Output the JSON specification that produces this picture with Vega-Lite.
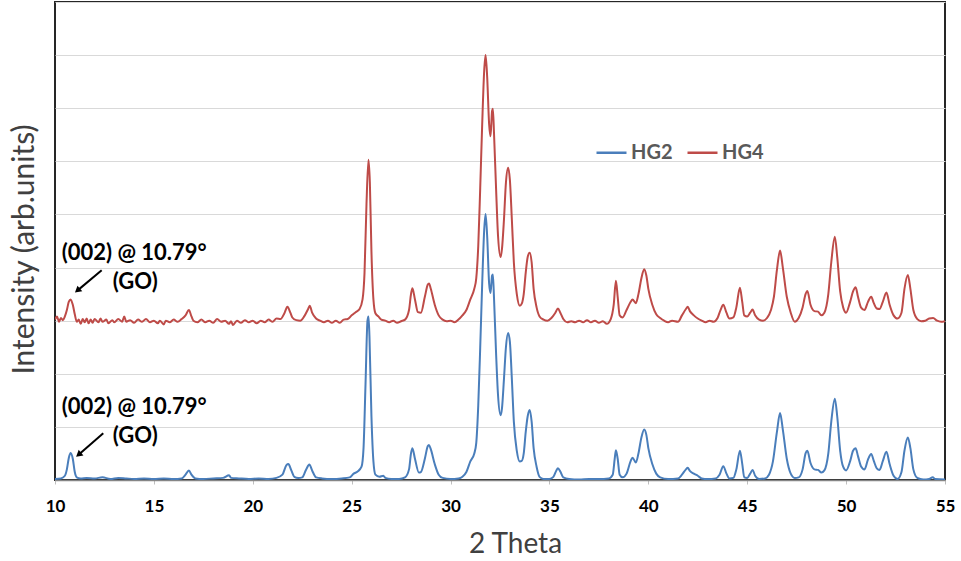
{
  "$schema": "https://vega.github.io/schema/vega-lite/v6.json",
  "width": 890,
  "height": 478,
  "autosize": "none",
  "padding": {"left": 55, "top": 2, "right": 16, "bottom": 81},
  "background": "white",
  "config": {
    "font": "Lato",
    "view": {"stroke": "#262626", "strokeWidth": 2}
  },
  "layer": [
    {
      "data": {"values": [
        {"s":"HG2","t":10.0,"i":0.02},{"s":"HG2","t":10.3,"i":0.03},{"s":"HG2","t":10.5,"i":0.08},{"s":"HG2","t":10.6,"i":0.2},{"s":"HG2","t":10.7,"i":0.42},{"s":"HG2","t":10.79,"i":0.51},{"s":"HG2","t":10.9,"i":0.4},{"s":"HG2","t":11.0,"i":0.15},{"s":"HG2","t":11.1,"i":0.05},{"s":"HG2","t":11.3,"i":0.03},{"s":"HG2","t":11.6,"i":0.04},{"s":"HG2","t":12.0,"i":0.03},{"s":"HG2","t":12.4,"i":0.05},{"s":"HG2","t":12.8,"i":0.02},{"s":"HG2","t":13.2,"i":0.04},{"s":"HG2","t":13.6,"i":0.03},{"s":"HG2","t":14.0,"i":0.02},{"s":"HG2","t":14.5,"i":0.03},{"s":"HG2","t":15.0,"i":0.02},{"s":"HG2","t":15.5,"i":0.03},{"s":"HG2","t":16.0,"i":0.02},{"s":"HG2","t":16.4,"i":0.03},{"s":"HG2","t":16.6,"i":0.1},{"s":"HG2","t":16.77,"i":0.18},{"s":"HG2","t":16.9,"i":0.1},{"s":"HG2","t":17.1,"i":0.03},{"s":"HG2","t":17.5,"i":0.02},{"s":"HG2","t":18.0,"i":0.03},{"s":"HG2","t":18.5,"i":0.04},{"s":"HG2","t":18.8,"i":0.09},{"s":"HG2","t":18.9,"i":0.04},{"s":"HG2","t":19.3,"i":0.03},{"s":"HG2","t":19.8,"i":0.02},{"s":"HG2","t":20.3,"i":0.03},{"s":"HG2","t":20.8,"i":0.02},{"s":"HG2","t":21.2,"i":0.04},{"s":"HG2","t":21.5,"i":0.1},{"s":"HG2","t":21.7,"i":0.28},{"s":"HG2","t":21.8,"i":0.3},{"s":"HG2","t":21.95,"i":0.18},{"s":"HG2","t":22.1,"i":0.06},{"s":"HG2","t":22.3,"i":0.04},{"s":"HG2","t":22.5,"i":0.05},{"s":"HG2","t":22.7,"i":0.2},{"s":"HG2","t":22.86,"i":0.29},{"s":"HG2","t":23.0,"i":0.18},{"s":"HG2","t":23.2,"i":0.05},{"s":"HG2","t":23.5,"i":0.03},{"s":"HG2","t":24.0,"i":0.02},{"s":"HG2","t":24.5,"i":0.03},{"s":"HG2","t":24.9,"i":0.05},{"s":"HG2","t":25.1,"i":0.12},{"s":"HG2","t":25.3,"i":0.16},{"s":"HG2","t":25.5,"i":0.25},{"s":"HG2","t":25.6,"i":0.6},{"s":"HG2","t":25.7,"i":1.8},{"s":"HG2","t":25.8,"i":3.0},{"s":"HG2","t":25.85,"i":3.08},{"s":"HG2","t":25.9,"i":2.7},{"s":"HG2","t":26.0,"i":1.2},{"s":"HG2","t":26.1,"i":0.35},{"s":"HG2","t":26.2,"i":0.1},{"s":"HG2","t":26.4,"i":0.06},{"s":"HG2","t":26.6,"i":0.08},{"s":"HG2","t":26.7,"i":0.04},{"s":"HG2","t":27.0,"i":0.02},{"s":"HG2","t":27.4,"i":0.02},{"s":"HG2","t":27.7,"i":0.05},{"s":"HG2","t":27.9,"i":0.2},{"s":"HG2","t":28.0,"i":0.5},{"s":"HG2","t":28.07,"i":0.6},{"s":"HG2","t":28.2,"i":0.4},{"s":"HG2","t":28.4,"i":0.14},{"s":"HG2","t":28.5,"i":0.15},{"s":"HG2","t":28.7,"i":0.4},{"s":"HG2","t":28.85,"i":0.64},{"s":"HG2","t":28.91,"i":0.66},{"s":"HG2","t":29.0,"i":0.58},{"s":"HG2","t":29.2,"i":0.3},{"s":"HG2","t":29.4,"i":0.1},{"s":"HG2","t":29.6,"i":0.04},{"s":"HG2","t":30.0,"i":0.02},{"s":"HG2","t":30.4,"i":0.03},{"s":"HG2","t":30.6,"i":0.06},{"s":"HG2","t":30.8,"i":0.15},{"s":"HG2","t":31.0,"i":0.35},{"s":"HG2","t":31.2,"i":0.5},{"s":"HG2","t":31.3,"i":0.7},{"s":"HG2","t":31.4,"i":1.4},{"s":"HG2","t":31.5,"i":2.5},{"s":"HG2","t":31.6,"i":3.7},{"s":"HG2","t":31.7,"i":4.7},{"s":"HG2","t":31.77,"i":5.01},{"s":"HG2","t":31.85,"i":4.6},{"s":"HG2","t":31.95,"i":3.7},{"s":"HG2","t":32.02,"i":3.52},{"s":"HG2","t":32.1,"i":3.85},{"s":"HG2","t":32.14,"i":3.87},{"s":"HG2","t":32.2,"i":3.4},{"s":"HG2","t":32.3,"i":2.4},{"s":"HG2","t":32.4,"i":1.6},{"s":"HG2","t":32.53,"i":1.22},{"s":"HG2","t":32.6,"i":1.35},{"s":"HG2","t":32.7,"i":1.9},{"s":"HG2","t":32.8,"i":2.5},{"s":"HG2","t":32.91,"i":2.77},{"s":"HG2","t":33.0,"i":2.6},{"s":"HG2","t":33.1,"i":1.9},{"s":"HG2","t":33.2,"i":1.1},{"s":"HG2","t":33.35,"i":0.55},{"s":"HG2","t":33.5,"i":0.35},{"s":"HG2","t":33.6,"i":0.36},{"s":"HG2","t":33.7,"i":0.5},{"s":"HG2","t":33.8,"i":0.9},{"s":"HG2","t":33.9,"i":1.2},{"s":"HG2","t":34.0,"i":1.32},{"s":"HG2","t":34.1,"i":1.1},{"s":"HG2","t":34.2,"i":0.6},{"s":"HG2","t":34.35,"i":0.25},{"s":"HG2","t":34.5,"i":0.06},{"s":"HG2","t":34.7,"i":0.02},{"s":"HG2","t":35.0,"i":0.02},{"s":"HG2","t":35.2,"i":0.06},{"s":"HG2","t":35.35,"i":0.18},{"s":"HG2","t":35.43,"i":0.22},{"s":"HG2","t":35.55,"i":0.16},{"s":"HG2","t":35.7,"i":0.05},{"s":"HG2","t":36.0,"i":0.02},{"s":"HG2","t":36.5,"i":0.01},{"s":"HG2","t":37.0,"i":0.02},{"s":"HG2","t":37.5,"i":0.02},{"s":"HG2","t":38.0,"i":0.03},{"s":"HG2","t":38.2,"i":0.1},{"s":"HG2","t":38.3,"i":0.4},{"s":"HG2","t":38.36,"i":0.56},{"s":"HG2","t":38.45,"i":0.4},{"s":"HG2","t":38.55,"i":0.1},{"s":"HG2","t":38.7,"i":0.05},{"s":"HG2","t":38.9,"i":0.12},{"s":"HG2","t":39.1,"i":0.35},{"s":"HG2","t":39.2,"i":0.42},{"s":"HG2","t":39.37,"i":0.33},{"s":"HG2","t":39.5,"i":0.5},{"s":"HG2","t":39.65,"i":0.8},{"s":"HG2","t":39.79,"i":0.95},{"s":"HG2","t":39.9,"i":0.85},{"s":"HG2","t":40.0,"i":0.6},{"s":"HG2","t":40.2,"i":0.3},{"s":"HG2","t":40.4,"i":0.12},{"s":"HG2","t":40.6,"i":0.05},{"s":"HG2","t":41.0,"i":0.02},{"s":"HG2","t":41.5,"i":0.03},{"s":"HG2","t":41.7,"i":0.1},{"s":"HG2","t":41.9,"i":0.2},{"s":"HG2","t":41.99,"i":0.23},{"s":"HG2","t":42.1,"i":0.17},{"s":"HG2","t":42.3,"i":0.12},{"s":"HG2","t":42.5,"i":0.08},{"s":"HG2","t":42.7,"i":0.03},{"s":"HG2","t":43.0,"i":0.02},{"s":"HG2","t":43.4,"i":0.03},{"s":"HG2","t":43.6,"i":0.1},{"s":"HG2","t":43.79,"i":0.26},{"s":"HG2","t":43.95,"i":0.12},{"s":"HG2","t":44.1,"i":0.03},{"s":"HG2","t":44.3,"i":0.04},{"s":"HG2","t":44.45,"i":0.2},{"s":"HG2","t":44.63,"i":0.55},{"s":"HG2","t":44.75,"i":0.3},{"s":"HG2","t":44.85,"i":0.05},{"s":"HG2","t":45.0,"i":0.04},{"s":"HG2","t":45.15,"i":0.12},{"s":"HG2","t":45.27,"i":0.19},{"s":"HG2","t":45.4,"i":0.08},{"s":"HG2","t":45.6,"i":0.02},{"s":"HG2","t":45.9,"i":0.03},{"s":"HG2","t":46.1,"i":0.1},{"s":"HG2","t":46.3,"i":0.35},{"s":"HG2","t":46.5,"i":0.9},{"s":"HG2","t":46.66,"i":1.26},{"s":"HG2","t":46.8,"i":0.95},{"s":"HG2","t":47.0,"i":0.4},{"s":"HG2","t":47.2,"i":0.12},{"s":"HG2","t":47.4,"i":0.04},{"s":"HG2","t":47.6,"i":0.05},{"s":"HG2","t":47.8,"i":0.2},{"s":"HG2","t":47.95,"i":0.5},{"s":"HG2","t":48.04,"i":0.55},{"s":"HG2","t":48.2,"i":0.32},{"s":"HG2","t":48.4,"i":0.2},{"s":"HG2","t":48.58,"i":0.19},{"s":"HG2","t":48.75,"i":0.14},{"s":"HG2","t":48.9,"i":0.18},{"s":"HG2","t":49.1,"i":0.5},{"s":"HG2","t":49.25,"i":1.1},{"s":"HG2","t":49.43,"i":1.53},{"s":"HG2","t":49.55,"i":1.2},{"s":"HG2","t":49.7,"i":0.55},{"s":"HG2","t":49.85,"i":0.25},{"s":"HG2","t":50.0,"i":0.18},{"s":"HG2","t":50.2,"i":0.35},{"s":"HG2","t":50.35,"i":0.55},{"s":"HG2","t":50.48,"i":0.6},{"s":"HG2","t":50.6,"i":0.45},{"s":"HG2","t":50.75,"i":0.26},{"s":"HG2","t":50.93,"i":0.2},{"s":"HG2","t":51.1,"i":0.38},{"s":"HG2","t":51.27,"i":0.49},{"s":"HG2","t":51.4,"i":0.36},{"s":"HG2","t":51.55,"i":0.22},{"s":"HG2","t":51.69,"i":0.19},{"s":"HG2","t":51.85,"i":0.35},{"s":"HG2","t":52.04,"i":0.53},{"s":"HG2","t":52.2,"i":0.3},{"s":"HG2","t":52.4,"i":0.08},{"s":"HG2","t":52.6,"i":0.02},{"s":"HG2","t":52.8,"i":0.15},{"s":"HG2","t":52.95,"i":0.55},{"s":"HG2","t":53.12,"i":0.8},{"s":"HG2","t":53.25,"i":0.6},{"s":"HG2","t":53.4,"i":0.2},{"s":"HG2","t":53.6,"i":0.04},{"s":"HG2","t":53.9,"i":0.01},{"s":"HG2","t":54.2,"i":0.02},{"s":"HG2","t":54.38,"i":0.05},{"s":"HG2","t":54.5,"i":0.02},{"s":"HG2","t":55.0,"i":0.01},
        {"s":"HG4","t":10.0,"i":3.02},{"s":"HG4","t":10.1,"i":3.08},{"s":"HG4","t":10.2,"i":2.98},{"s":"HG4","t":10.3,"i":3.05},{"s":"HG4","t":10.4,"i":3.01},{"s":"HG4","t":10.5,"i":3.08},{"s":"HG4","t":10.6,"i":3.2},{"s":"HG4","t":10.7,"i":3.36},{"s":"HG4","t":10.79,"i":3.4},{"s":"HG4","t":10.9,"i":3.3},{"s":"HG4","t":11.0,"i":3.12},{"s":"HG4","t":11.1,"i":2.98},{"s":"HG4","t":11.2,"i":3.02},{"s":"HG4","t":11.3,"i":2.94},{"s":"HG4","t":11.4,"i":3.03},{"s":"HG4","t":11.5,"i":2.97},{"s":"HG4","t":11.6,"i":3.04},{"s":"HG4","t":11.7,"i":2.95},{"s":"HG4","t":11.8,"i":3.02},{"s":"HG4","t":11.9,"i":2.96},{"s":"HG4","t":12.0,"i":3.03},{"s":"HG4","t":12.2,"i":2.97},{"s":"HG4","t":12.3,"i":3.04},{"s":"HG4","t":12.4,"i":2.98},{"s":"HG4","t":12.6,"i":3.02},{"s":"HG4","t":12.7,"i":2.95},{"s":"HG4","t":12.9,"i":3.01},{"s":"HG4","t":13.0,"i":2.97},{"s":"HG4","t":13.2,"i":3.03},{"s":"HG4","t":13.4,"i":2.98},{"s":"HG4","t":13.5,"i":3.08},{"s":"HG4","t":13.6,"i":2.98},{"s":"HG4","t":13.8,"i":3.01},{"s":"HG4","t":14.0,"i":2.96},{"s":"HG4","t":14.2,"i":3.02},{"s":"HG4","t":14.4,"i":2.98},{"s":"HG4","t":14.6,"i":3.03},{"s":"HG4","t":14.8,"i":2.97},{"s":"HG4","t":15.0,"i":3.0},{"s":"HG4","t":15.2,"i":2.95},{"s":"HG4","t":15.3,"i":3.0},{"s":"HG4","t":15.5,"i":2.93},{"s":"HG4","t":15.6,"i":3.0},{"s":"HG4","t":15.8,"i":2.97},{"s":"HG4","t":16.0,"i":3.02},{"s":"HG4","t":16.2,"i":2.98},{"s":"HG4","t":16.4,"i":3.03},{"s":"HG4","t":16.6,"i":3.1},{"s":"HG4","t":16.77,"i":3.2},{"s":"HG4","t":16.9,"i":3.08},{"s":"HG4","t":17.0,"i":3.0},{"s":"HG4","t":17.2,"i":2.97},{"s":"HG4","t":17.4,"i":3.02},{"s":"HG4","t":17.6,"i":2.97},{"s":"HG4","t":17.8,"i":3.0},{"s":"HG4","t":18.0,"i":2.96},{"s":"HG4","t":18.2,"i":3.03},{"s":"HG4","t":18.4,"i":2.98},{"s":"HG4","t":18.6,"i":3.0},{"s":"HG4","t":18.8,"i":2.94},{"s":"HG4","t":18.9,"i":2.99},{"s":"HG4","t":19.0,"i":2.92},{"s":"HG4","t":19.2,"i":3.0},{"s":"HG4","t":19.4,"i":2.96},{"s":"HG4","t":19.6,"i":3.01},{"s":"HG4","t":19.8,"i":2.97},{"s":"HG4","t":20.0,"i":3.0},{"s":"HG4","t":20.2,"i":2.95},{"s":"HG4","t":20.4,"i":3.0},{"s":"HG4","t":20.6,"i":2.97},{"s":"HG4","t":20.8,"i":3.02},{"s":"HG4","t":21.0,"i":2.98},{"s":"HG4","t":21.2,"i":3.04},{"s":"HG4","t":21.4,"i":3.03},{"s":"HG4","t":21.6,"i":3.14},{"s":"HG4","t":21.75,"i":3.26},{"s":"HG4","t":21.9,"i":3.15},{"s":"HG4","t":22.0,"i":3.06},{"s":"HG4","t":22.2,"i":3.01},{"s":"HG4","t":22.4,"i":3.0},{"s":"HG4","t":22.6,"i":3.08},{"s":"HG4","t":22.8,"i":3.22},{"s":"HG4","t":22.88,"i":3.28},{"s":"HG4","t":23.0,"i":3.15},{"s":"HG4","t":23.2,"i":3.04},{"s":"HG4","t":23.4,"i":3.0},{"s":"HG4","t":23.6,"i":2.97},{"s":"HG4","t":23.8,"i":3.0},{"s":"HG4","t":24.0,"i":2.96},{"s":"HG4","t":24.2,"i":3.0},{"s":"HG4","t":24.4,"i":2.96},{"s":"HG4","t":24.6,"i":3.02},{"s":"HG4","t":24.8,"i":3.03},{"s":"HG4","t":25.0,"i":3.1},{"s":"HG4","t":25.2,"i":3.16},{"s":"HG4","t":25.4,"i":3.22},{"s":"HG4","t":25.55,"i":3.4},{"s":"HG4","t":25.65,"i":3.9},{"s":"HG4","t":25.75,"i":5.2},{"s":"HG4","t":25.85,"i":6.03},{"s":"HG4","t":25.92,"i":5.6},{"s":"HG4","t":26.0,"i":4.3},{"s":"HG4","t":26.1,"i":3.4},{"s":"HG4","t":26.2,"i":3.14},{"s":"HG4","t":26.35,"i":3.08},{"s":"HG4","t":26.5,"i":3.02},{"s":"HG4","t":26.7,"i":3.0},{"s":"HG4","t":26.9,"i":2.97},{"s":"HG4","t":27.1,"i":3.0},{"s":"HG4","t":27.3,"i":2.96},{"s":"HG4","t":27.5,"i":2.99},{"s":"HG4","t":27.7,"i":3.02},{"s":"HG4","t":27.9,"i":3.2},{"s":"HG4","t":28.0,"i":3.5},{"s":"HG4","t":28.07,"i":3.61},{"s":"HG4","t":28.2,"i":3.4},{"s":"HG4","t":28.35,"i":3.16},{"s":"HG4","t":28.5,"i":3.15},{"s":"HG4","t":28.7,"i":3.45},{"s":"HG4","t":28.85,"i":3.68},{"s":"HG4","t":28.91,"i":3.7},{"s":"HG4","t":29.0,"i":3.6},{"s":"HG4","t":29.2,"i":3.3},{"s":"HG4","t":29.4,"i":3.1},{"s":"HG4","t":29.6,"i":3.02},{"s":"HG4","t":29.8,"i":2.99},{"s":"HG4","t":30.0,"i":3.0},{"s":"HG4","t":30.2,"i":2.97},{"s":"HG4","t":30.4,"i":3.02},{"s":"HG4","t":30.6,"i":3.1},{"s":"HG4","t":30.8,"i":3.2},{"s":"HG4","t":31.0,"i":3.4},{"s":"HG4","t":31.2,"i":3.6},{"s":"HG4","t":31.3,"i":3.8},{"s":"HG4","t":31.4,"i":4.4},{"s":"HG4","t":31.5,"i":5.5},{"s":"HG4","t":31.6,"i":6.7},{"s":"HG4","t":31.7,"i":7.7},{"s":"HG4","t":31.77,"i":8.0},{"s":"HG4","t":31.85,"i":7.6},{"s":"HG4","t":31.95,"i":6.7},{"s":"HG4","t":32.02,"i":6.47},{"s":"HG4","t":32.1,"i":6.95},{"s":"HG4","t":32.14,"i":6.99},{"s":"HG4","t":32.2,"i":6.5},{"s":"HG4","t":32.3,"i":5.5},{"s":"HG4","t":32.4,"i":4.6},{"s":"HG4","t":32.53,"i":4.2},{"s":"HG4","t":32.6,"i":4.35},{"s":"HG4","t":32.7,"i":4.9},{"s":"HG4","t":32.8,"i":5.6},{"s":"HG4","t":32.91,"i":5.88},{"s":"HG4","t":33.0,"i":5.65},{"s":"HG4","t":33.1,"i":4.9},{"s":"HG4","t":33.2,"i":4.1},{"s":"HG4","t":33.35,"i":3.5},{"s":"HG4","t":33.5,"i":3.28},{"s":"HG4","t":33.6,"i":3.32},{"s":"HG4","t":33.7,"i":3.5},{"s":"HG4","t":33.8,"i":3.9},{"s":"HG4","t":33.9,"i":4.2},{"s":"HG4","t":34.0,"i":4.28},{"s":"HG4","t":34.1,"i":4.1},{"s":"HG4","t":34.2,"i":3.6},{"s":"HG4","t":34.35,"i":3.25},{"s":"HG4","t":34.5,"i":3.08},{"s":"HG4","t":34.7,"i":3.02},{"s":"HG4","t":34.9,"i":3.0},{"s":"HG4","t":35.1,"i":3.05},{"s":"HG4","t":35.3,"i":3.15},{"s":"HG4","t":35.43,"i":3.23},{"s":"HG4","t":35.55,"i":3.15},{"s":"HG4","t":35.7,"i":3.03},{"s":"HG4","t":35.9,"i":2.97},{"s":"HG4","t":36.1,"i":2.99},{"s":"HG4","t":36.3,"i":2.97},{"s":"HG4","t":36.5,"i":3.0},{"s":"HG4","t":36.7,"i":2.97},{"s":"HG4","t":36.9,"i":3.01},{"s":"HG4","t":37.1,"i":2.97},{"s":"HG4","t":37.3,"i":3.0},{"s":"HG4","t":37.5,"i":2.96},{"s":"HG4","t":37.7,"i":2.99},{"s":"HG4","t":37.9,"i":2.94},{"s":"HG4","t":38.1,"i":3.03},{"s":"HG4","t":38.25,"i":3.3},{"s":"HG4","t":38.36,"i":3.75},{"s":"HG4","t":38.45,"i":3.45},{"s":"HG4","t":38.55,"i":3.1},{"s":"HG4","t":38.7,"i":3.06},{"s":"HG4","t":38.9,"i":3.2},{"s":"HG4","t":39.1,"i":3.35},{"s":"HG4","t":39.2,"i":3.4},{"s":"HG4","t":39.37,"i":3.33},{"s":"HG4","t":39.5,"i":3.5},{"s":"HG4","t":39.65,"i":3.8},{"s":"HG4","t":39.79,"i":3.97},{"s":"HG4","t":39.9,"i":3.85},{"s":"HG4","t":40.0,"i":3.6},{"s":"HG4","t":40.2,"i":3.3},{"s":"HG4","t":40.4,"i":3.12},{"s":"HG4","t":40.6,"i":3.05},{"s":"HG4","t":40.8,"i":3.0},{"s":"HG4","t":41.0,"i":2.97},{"s":"HG4","t":41.2,"i":3.0},{"s":"HG4","t":41.5,"i":2.98},{"s":"HG4","t":41.7,"i":3.1},{"s":"HG4","t":41.9,"i":3.22},{"s":"HG4","t":41.99,"i":3.26},{"s":"HG4","t":42.1,"i":3.18},{"s":"HG4","t":42.3,"i":3.1},{"s":"HG4","t":42.5,"i":3.04},{"s":"HG4","t":42.7,"i":3.0},{"s":"HG4","t":42.9,"i":2.97},{"s":"HG4","t":43.1,"i":3.0},{"s":"HG4","t":43.3,"i":2.98},{"s":"HG4","t":43.5,"i":3.05},{"s":"HG4","t":43.65,"i":3.2},{"s":"HG4","t":43.79,"i":3.3},{"s":"HG4","t":43.95,"i":3.15},{"s":"HG4","t":44.1,"i":3.04},{"s":"HG4","t":44.3,"i":3.06},{"s":"HG4","t":44.45,"i":3.25},{"s":"HG4","t":44.63,"i":3.62},{"s":"HG4","t":44.75,"i":3.35},{"s":"HG4","t":44.85,"i":3.1},{"s":"HG4","t":45.0,"i":3.08},{"s":"HG4","t":45.15,"i":3.15},{"s":"HG4","t":45.27,"i":3.21},{"s":"HG4","t":45.4,"i":3.1},{"s":"HG4","t":45.6,"i":3.02},{"s":"HG4","t":45.8,"i":3.0},{"s":"HG4","t":46.0,"i":3.05},{"s":"HG4","t":46.2,"i":3.2},{"s":"HG4","t":46.35,"i":3.45},{"s":"HG4","t":46.5,"i":3.95},{"s":"HG4","t":46.66,"i":4.32},{"s":"HG4","t":46.8,"i":4.0},{"s":"HG4","t":47.0,"i":3.45},{"s":"HG4","t":47.2,"i":3.15},{"s":"HG4","t":47.4,"i":2.98},{"s":"HG4","t":47.6,"i":3.05},{"s":"HG4","t":47.8,"i":3.25},{"s":"HG4","t":47.95,"i":3.5},{"s":"HG4","t":48.04,"i":3.56},{"s":"HG4","t":48.2,"i":3.3},{"s":"HG4","t":48.4,"i":3.18},{"s":"HG4","t":48.58,"i":3.17},{"s":"HG4","t":48.75,"i":3.1},{"s":"HG4","t":48.9,"i":3.15},{"s":"HG4","t":49.1,"i":3.5},{"s":"HG4","t":49.25,"i":4.1},{"s":"HG4","t":49.43,"i":4.58},{"s":"HG4","t":49.55,"i":4.2},{"s":"HG4","t":49.7,"i":3.55},{"s":"HG4","t":49.85,"i":3.25},{"s":"HG4","t":50.0,"i":3.15},{"s":"HG4","t":50.2,"i":3.35},{"s":"HG4","t":50.35,"i":3.55},{"s":"HG4","t":50.48,"i":3.63},{"s":"HG4","t":50.6,"i":3.45},{"s":"HG4","t":50.75,"i":3.25},{"s":"HG4","t":50.93,"i":3.2},{"s":"HG4","t":51.1,"i":3.35},{"s":"HG4","t":51.27,"i":3.45},{"s":"HG4","t":51.4,"i":3.33},{"s":"HG4","t":51.55,"i":3.23},{"s":"HG4","t":51.69,"i":3.22},{"s":"HG4","t":51.85,"i":3.35},{"s":"HG4","t":52.04,"i":3.53},{"s":"HG4","t":52.2,"i":3.3},{"s":"HG4","t":52.4,"i":3.1},{"s":"HG4","t":52.6,"i":3.04},{"s":"HG4","t":52.8,"i":3.15},{"s":"HG4","t":52.95,"i":3.6},{"s":"HG4","t":53.12,"i":3.86},{"s":"HG4","t":53.25,"i":3.6},{"s":"HG4","t":53.4,"i":3.2},{"s":"HG4","t":53.6,"i":3.03},{"s":"HG4","t":53.8,"i":2.99},{"s":"HG4","t":54.0,"i":3.0},{"s":"HG4","t":54.2,"i":3.04},{"s":"HG4","t":54.4,"i":3.05},{"s":"HG4","t":54.6,"i":3.0},{"s":"HG4","t":54.8,"i":2.98},{"s":"HG4","t":55.0,"i":2.99}
      ]},
      "mark": {"type": "line", "interpolate": "monotone", "strokeWidth": 2, "clip": true},
      "encoding": {
        "x": {
          "field": "t", "type": "quantitative",
          "scale": {"domain": [10, 55], "nice": false, "zero": false},
          "axis": {
            "title": "2 Theta", "values": [10, 15, 20, 25, 30, 35, 40, 45, 50, 55],
            "grid": false, "domainColor": "#868686", "domainWidth": 1.5,
            "tickColor": "#bfbfbf", "tickSize": 4,
            "labelFontSize": 17, "labelFontWeight": "bold", "labelColor": "#000000", "labelPadding": 14,
            "labelFlush": false,
            "titleFontSize": 28, "titleFontWeight": "normal", "titleColor": "#404040", "titlePadding": 16, "titleX": 460
          }
        },
        "y": {
          "field": "i", "type": "quantitative",
          "scale": {"domain": [0, 9], "nice": false},
          "axis": {
            "title": "Intensity (arb.units)", "values": [0, 1, 2, 3, 4, 5, 6, 7, 8, 9],
            "labels": false, "ticks": false, "domain": false,
            "grid": true, "gridColor": "#d9d9d9", "gridWidth": 1,
            "titleFontSize": 30, "titleFontWeight": "normal", "titleColor": "#404040", "titlePadding": 16, "titleY": 247
          }
        },
        "color": {
          "field": "s", "type": "nominal",
          "scale": {"domain": ["HG2", "HG4"], "range": ["#4A7EBB", "#BE4B48"]},
          "legend": {
            "title": null, "orient": "none", "legendX": 540, "legendY": 134, "direction": "horizontal",
            "symbolType": "stroke", "symbolSize": 900, "symbolStrokeWidth": 2.5,
            "labelFontSize": 20, "labelFontWeight": "bold", "labelColor": "#595959", "labelOffset": 3,
            "columnPadding": 9
          }
        }
      }
    },
    {
      "data": {"values": [
        {"lab": "(002) @ 10.79°", "t": 10.34, "i": 4.27},
        {"lab": "(002) @ 10.79°", "t": 10.34, "i": 1.38},
        {"lab": "(GO)", "t": 12.92, "i": 3.73},
        {"lab": "(GO)", "t": 12.92, "i": 0.83}
      ]},
      "mark": {"type": "text", "align": "left", "baseline": "middle", "fontSize": 22, "fontWeight": "bold", "color": "#000000"},
      "encoding": {
        "x": {"field": "t", "type": "quantitative"},
        "y": {"field": "i", "type": "quantitative"},
        "text": {"field": "lab"}
      }
    },
    {
      "data": {"values": [
        {"t": 12.36, "i": 3.95, "t2": 11.175, "i2": 3.58},
        {"t": 12.44, "i": 0.88, "t2": 11.235, "i2": 0.49}
      ]},
      "mark": {"type": "rule", "color": "#000000", "strokeWidth": 2},
      "encoding": {
        "x": {"field": "t", "type": "quantitative"},
        "y": {"field": "i", "type": "quantitative"},
        "x2": {"field": "t2"},
        "y2": {"field": "i2"}
      }
    },
    {
      "data": {"values": [
        {"t": 11.175, "i": 3.58},
        {"t": 11.235, "i": 0.49}
      ]},
      "mark": {"type": "point", "shape": "triangle", "filled": true, "color": "#000000", "opacity": 1, "size": 55, "angle": 230},
      "encoding": {
        "x": {"field": "t", "type": "quantitative"},
        "y": {"field": "i", "type": "quantitative"}
      }
    }
  ]
}
